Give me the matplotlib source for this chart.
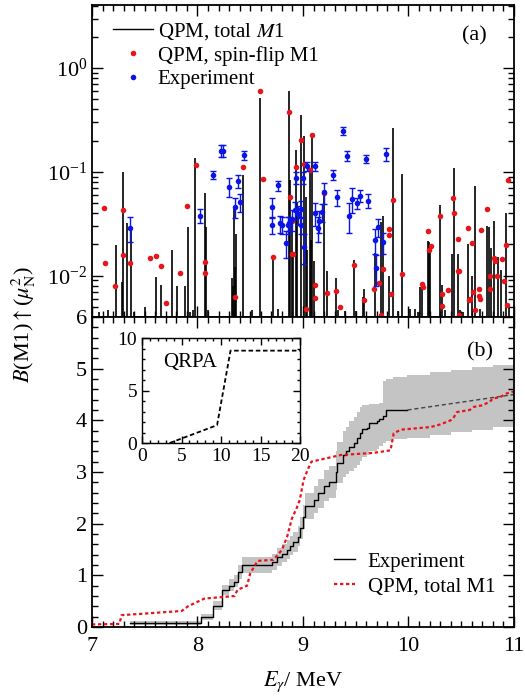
import matplotlib
matplotlib.use("Agg")
import matplotlib.pyplot as plt
from matplotlib.lines import Line2D
from matplotlib.ticker import MultipleLocator, LogLocator, NullFormatter

plt.rcParams["font.family"] = ["Liberation Serif", "DejaVu Serif"]
plt.rcParams["mathtext.fontset"] = "stix"

# ---- panel (a): QPM total M1 strengths (sticks) ----
STICK_E = [7.07, 7.15, 7.223, 7.285, 7.292, 7.336, 7.367, 7.40, 7.50, 7.61,
           7.65, 7.76, 7.81, 7.88, 7.906, 7.93, 7.955, 7.978, 8.07, 8.08,
           8.10, 8.33, 8.34, 8.345, 8.355, 8.365, 8.43, 8.52, 8.596, 8.72,
           8.76, 8.865, 8.88, 8.90, 8.91, 8.935, 8.945, 8.98, 9.01, 9.033,
           9.04, 9.065, 9.08, 9.09, 9.10, 9.20, 9.23, 9.31, 9.33, 9.40,
           9.48, 9.50, 9.57, 9.58, 9.68, 9.74, 9.76, 9.815, 9.85, 9.90,
           9.94, 10.01, 10.06, 10.09, 10.11, 10.13, 10.185, 10.195, 10.205, 10.30,
           10.32, 10.35, 10.41, 10.43, 10.47, 10.49, 10.52, 10.565, 10.60, 10.635,
           10.68, 10.745, 10.765, 10.785, 10.815, 10.845, 10.875, 10.92, 10.95]
STICK_B = [0.0045, 0.0047, 0.0196, 0.0087, 0.10, 0.032, 0.0295, 0.0045, 0.0050, 0.0097,
           0.0082, 0.0176, 0.0080, 0.0080, 0.0295, 0.0045, 0.0047, 0.135, 0.063, 0.0295,
           0.0047, 0.0094, 0.008, 0.046, 0.012, 0.025, 0.094, 0.0047, 0.51, 0.0153,
           0.0048, 0.60, 0.083, 0.034, 0.016, 0.162, 0.051, 0.352, 0.221, 0.057,
           0.0176, 0.104, 0.022, 0.231, 0.014, 0.062, 0.011, 0.0095, 0.0047, 0.0046,
           0.0142, 0.0046, 0.0062, 0.0074, 0.0165, 0.033, 0.038, 0.010, 0.262, 0.0046,
           0.095, 0.0048, 0.0048, 0.0045, 0.0078, 0.0084, 0.0218, 0.021, 0.018, 0.048,
           0.0082, 0.0047, 0.016, 0.110, 0.016, 0.0047, 0.0045, 0.0204, 0.010, 0.073,
           0.0048, 0.030, 0.0295, 0.0186, 0.034, 0.0152, 0.0114, 0.040, 0.005]

# QPM spin-flip M1 (red dots)
RED_E = [7.116, 7.125, 7.22, 7.29, 7.295, 7.365, 7.55, 7.61, 7.65, 7.70,
         7.83, 7.905, 7.985, 8.07, 8.07, 8.36, 8.43, 8.596, 8.62, 8.72,
         8.87, 8.88, 8.90, 8.895, 8.91, 8.935, 8.98, 9.01, 9.03, 9.065,
         9.09, 9.11, 9.11, 9.20, 9.23, 9.31, 9.355, 9.48, 9.58, 9.67,
         9.72, 9.74, 9.76, 9.82, 9.82, 9.83, 9.85, 9.94, 10.13, 10.14,
         10.185, 10.195, 10.21, 10.30, 10.32, 10.32, 10.37, 10.42, 10.43, 10.47,
         10.465, 10.475, 10.475, 10.565, 10.57, 10.58, 10.60, 10.61, 10.635, 10.665,
         10.67, 10.68, 10.685, 10.745, 10.775, 10.775, 10.81, 10.82, 10.84, 10.885,
         10.91, 10.92, 10.935, 10.94]
RED_B = [0.045, 0.0132, 0.008, 0.043, 0.0157, 0.0133, 0.0149, 0.0154, 0.0123, 0.0055,
         0.0107, 0.047, 0.116, 0.0136, 0.0105, 0.0062, 0.112, 0.60, 0.086, 0.0153,
         0.38, 0.057, 0.034, 0.016, 0.016, 0.112, 0.202, 0.12, 0.0048, 0.104,
         0.229, 0.0081, 0.0061, 0.062, 0.0068, 0.0071, 0.005, 0.0126, 0.0058, 0.0074,
         0.0085, 0.0042, 0.0117, 0.028, 0.0245, 0.0067, 0.054, 0.0104, 0.0084, 0.0078,
         0.027, 0.0178, 0.0193, 0.0375, 0.0066, 0.0051, 0.0072, 0.056, 0.0405, 0.0228,
         0.011, 0.011, 0.0042, 0.0288, 0.0058, 0.006, 0.0206, 0.007, 0.0047, 0.0075,
         0.0064, 0.0059, 0.0275, 0.0436, 0.0099, 0.0075, 0.0148, 0.0138, 0.010, 0.0146,
         0.0088, 0.0196, 0.0052, 0.083]

# Experiment (blue dots with error bars)
BLUE_E = [7.365, 8.025, 8.147, 8.22, 8.24, 8.30, 8.355, 8.385, 8.40, 8.445,
          8.705, 8.71, 8.76, 8.785, 8.80, 8.84, 8.855, 8.87, 8.90, 8.92,
          8.93, 8.955, 8.98, 8.985, 9.0, 9.01, 9.035, 9.11, 9.11, 9.14,
          9.155, 9.18, 9.195, 9.28, 9.325, 9.38, 9.42, 9.44, 9.465, 9.51,
          9.54, 9.60, 9.615, 9.685, 9.695, 9.71, 9.76, 9.79]
BLUE_B = [0.029, 0.038, 0.093, 0.16, 0.16, 0.072, 0.046, 0.082, 0.051, 0.145,
          0.046, 0.031, 0.074, 0.032, 0.031, 0.0207, 0.031, 0.032, 0.035, 0.043,
          0.088, 0.039, 0.044, 0.031, 0.088, 0.019, 0.113, 0.113, 0.040, 0.029,
          0.034, 0.041, 0.064, 0.094, 0.057, 0.248, 0.143, 0.038, 0.055, 0.050,
          0.059, 0.133, 0.053, 0.0222, 0.0119, 0.0295, 0.021, 0.148]
BLUE_ERR = [0.008, 0.006, 0.008, 0.02, 0.02, 0.015, 0.010, 0.012, 0.010, 0.015,
            0.010, 0.006, 0.008, 0.006, 0.006, 0.006, 0.006, 0.005, 0.008, 0.008,
            0.012, 0.008, 0.008, 0.006, 0.012, 0.006, 0.012, 0.012, 0.010, 0.008,
            0.008, 0.008, 0.015, 0.010, 0.010, 0.020, 0.015, 0.012, 0.015, 0.006,
            0.008, 0.012, 0.008, 0.006, 0.004, 0.006, 0.005, 0.020]

# ---- panel (b): running sums ----
EXP_E = [7.36, 8.03, 8.15, 8.23, 8.30, 8.35, 8.385, 8.425, 8.71, 8.75,
         8.80, 8.85, 8.88, 8.91, 8.95, 8.97, 9.00, 9.02, 9.10, 9.14,
         9.20, 9.25, 9.31, 9.325, 9.38, 9.41, 9.44, 9.48, 9.51, 9.54,
         9.56, 9.61, 9.63, 9.70, 9.72, 9.76, 9.79, 9.99]
EXP_CUM = [0.07, 0.20, 0.41, 0.72, 0.80, 0.88, 1.06, 1.20, 1.26, 1.35,
           1.42, 1.50, 1.57, 1.65, 1.75, 1.91, 2.13, 2.34, 2.46, 2.59,
           2.73, 2.81, 3.00, 3.17, 3.33, 3.41, 3.49, 3.56, 3.65, 3.75,
           3.83, 3.86, 3.94, 3.99, 4.03, 4.08, 4.20, 4.20]
EXTRAP_E = [9.99, 11.0]
EXTRAP_CUM = [4.20, 4.50]

BAND_E = [7.36, 8.03, 8.15, 8.23, 8.30, 8.35, 8.385, 8.425, 8.71, 8.75,
          8.80, 8.85, 8.88, 8.91, 8.95, 8.97, 9.00, 9.02, 9.10, 9.14,
          9.20, 9.25, 9.31, 9.325, 9.38, 9.41, 9.44, 9.48, 9.51, 9.54,
          9.56, 9.61, 9.63, 9.70, 9.72, 9.76, 9.79, 9.85, 9.99, 10.2,
          10.4, 10.6, 10.8, 11.0]
BAND_LO = [0.03, 0.14, 0.33, 0.62, 0.70, 0.77, 0.93, 1.05, 1.10, 1.19,
           1.25, 1.32, 1.39, 1.46, 1.56, 1.70, 1.90, 2.09, 2.20, 2.31,
           2.43, 2.50, 2.65, 2.78, 2.90, 2.96, 3.02, 3.07, 3.14, 3.22,
           3.29, 3.32, 3.40, 3.45, 3.50, 3.56, 3.60, 3.63, 3.66, 3.72,
           3.77, 3.82, 3.87, 3.91]
BAND_HI = [0.12, 0.26, 0.50, 0.82, 0.92, 1.00, 1.20, 1.36, 1.42, 1.52,
           1.60, 1.68, 1.76, 1.84, 1.95, 2.12, 2.36, 2.59, 2.72, 2.87,
           3.03, 3.12, 3.40, 3.58, 3.80, 3.88, 3.98, 4.06, 4.16, 4.26,
           4.29, 4.30, 4.31, 4.32, 4.33, 4.76, 4.80, 4.84, 4.88, 4.93,
           4.98, 5.03, 5.08, 5.13]

QPM_E = [7.0, 7.26, 7.28, 7.5, 7.7, 7.85, 7.91, 7.97, 8.065, 8.35,
         8.38, 8.47, 8.50, 8.57, 8.72, 8.80, 8.85, 8.895, 8.94, 8.97,
         9.005, 9.05, 9.08, 9.36, 9.67, 9.83, 9.86, 9.93, 10.21, 10.30,
         10.40, 10.43, 10.46, 10.58, 10.62, 10.70, 10.77, 10.80, 10.87, 10.93,
         11.0]
QPM_CUM = [0.05, 0.06, 0.23, 0.26, 0.29, 0.31, 0.40, 0.46, 0.55, 0.60,
           0.72, 0.80, 1.04, 1.28, 1.30, 1.49, 1.75, 2.10, 2.30, 2.46,
           2.84, 3.07, 3.20, 3.33, 3.37, 3.42, 3.75, 3.82, 3.87, 3.92,
           4.00, 4.06, 4.16, 4.20, 4.26, 4.29, 4.36, 4.42, 4.45, 4.52,
           4.56]

# inset: QRPA running sum
QRPA_E = [3.5, 9.5, 11.2, 20.0]
QRPA_CUM = [0.0, 1.7, 8.8, 8.8]

RED = "#e8141b"
BLUE = "#0a14e6"


def style_axis(ax, size=16):
    ax.tick_params(which="both", direction="in", top=True, right=True,
                   labelsize=size, width=1)
    ax.tick_params(which="major", length=8)
    ax.tick_params(which="minor", length=4)
    for sp in ax.spines.values():
        sp.set_linewidth(1.3)


def main():
    fig = plt.figure(figsize=(5.25, 6.97), dpi=100)
    ax1 = fig.add_axes([0.1752, 0.5452, 0.8038, 0.4476])
    ax2 = fig.add_axes([0.1752, 0.1004, 0.8038, 0.4448], sharex=ax1)

    # (a)
    ax1.set_yscale("log")
    ax1.vlines(STICK_E, 0.004, STICK_B, color="black", lw=1.2)
    ax1.plot(RED_E, RED_B, "o", color=RED, ms=4.0, mec="none")
    ax1.errorbar(BLUE_E, BLUE_B, yerr=BLUE_ERR, fmt="o", color=BLUE, ms=4.0,
                 mec="none", capsize=2, elinewidth=1, capthick=1)
    ax1.set_ylim(0.004, 4.05)
    ax1.yaxis.set_major_locator(LogLocator(base=10, numticks=10))
    ax1.yaxis.set_minor_locator(LogLocator(base=10, subs=range(2, 10), numticks=20))
    ax1.yaxis.set_minor_formatter(NullFormatter())
    style_axis(ax1)
    ax1.tick_params(labelbottom=False)
    handles = [Line2D([], [], color="black", lw=1),
               Line2D([], [], ls="none", marker="o", color=RED, ms=4.0, mec="none"),
               Line2D([], [], ls="none", marker="o", color=BLUE, ms=4.0, mec="none")]
    ax1.legend(handles, ["QPM, total $M$1", "QPM, spin-flip M1", "Experiment"],
               loc="upper left", bbox_to_anchor=(0.02, 0.99), frameon=False,
               fontsize=15, handlelength=1.9, handletextpad=0.25,
               labelspacing=0.2, borderaxespad=0.2)
    ax1.text(0.905, 0.90, "(a)", transform=ax1.transAxes, fontsize=16,
             ha="center", va="center")

    # (b)
    ax2.fill_between(BAND_E, BAND_LO, BAND_HI, step="post", color="#c4c4c4", lw=0)
    ax2.step(EXP_E, EXP_CUM, where="post", color="black", lw=1.0)
    ax2.plot(EXTRAP_E, EXTRAP_CUM, color="#444444", lw=1.0, ls=(0, (3, 2)))
    ax2.plot(QPM_E, QPM_CUM, color=RED, lw=1.6, ls=(0, (1.5, 1.2)))
    ax2.set_xlim(7, 11)
    ax2.set_ylim(0, 6)
    ax2.xaxis.set_major_locator(MultipleLocator(1))
    ax2.xaxis.set_minor_locator(MultipleLocator(0.1))
    ax2.yaxis.set_major_locator(MultipleLocator(1))
    ax2.yaxis.set_minor_locator(MultipleLocator(0.2))
    style_axis(ax2)
    ax2.tick_params(axis="x", which="both", pad=7)
    ax2.set_xlabel(r"$E_\gamma$/ MeV", fontsize=16, labelpad=10)
    handles2 = [Line2D([], [], color="black", lw=1),
                Line2D([], [], color=RED, lw=1.6, ls=(0, (1.5, 1.2)))]
    ax2.legend(handles2, ["Experiment", "QPM, total M1"], loc="center left",
               bbox_to_anchor=(0.53, 0.17), frameon=False, fontsize=15,
               handlelength=1.0, handletextpad=0.6, labelspacing=0.25)
    ax2.text(0.92, 0.888, "(b)", transform=ax2.transAxes, fontsize=16,
             ha="center", va="center")

    fig.text(0.045, 0.535, r"$B$(M1)$\uparrow$($\mu_{\rm N}^2$)", rotation=90,
             fontsize=16, ha="center", va="center")

    # inset
    ax3 = fig.add_axes([0.2705, 0.3644, 0.301, 0.1506])
    ax3.plot(QRPA_E, QRPA_CUM, color="black", lw=1.3, ls=(0, (2.5, 1.5)))
    ax3.set_xlim(0, 20)
    ax3.set_ylim(0, 10)
    ax3.xaxis.set_major_locator(MultipleLocator(5))
    ax3.xaxis.set_minor_locator(MultipleLocator(1))
    ax3.yaxis.set_major_locator(MultipleLocator(5))
    ax3.yaxis.set_minor_locator(MultipleLocator(1))
    style_axis(ax3, size=14)
    ax3.tick_params(which="major", length=5)
    ax3.tick_params(which="minor", length=2.5)
    for sp in ax3.spines.values():
        sp.set_linewidth(1.0)
    ax3.text(2.7, 7.7, "QRPA", fontsize=15, ha="left", va="center")

    fig.savefig("out.png", dpi=100)


if __name__ == "__main__":
    main()
